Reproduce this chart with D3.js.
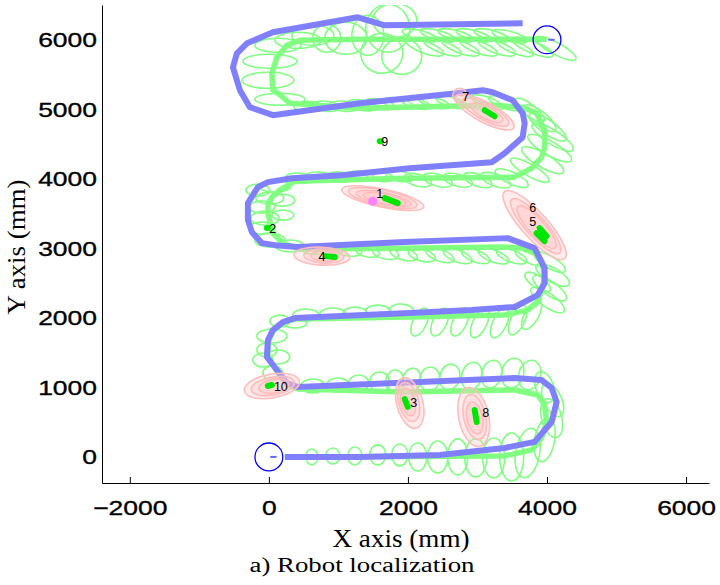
<!DOCTYPE html>
<html>
<head>
<meta charset="utf-8">
<script src="https://cdn.jsdelivr.net/npm/d3@7"></script>
<style>
  html, body { margin: 0; padding: 0; background: #fff; }
  svg { display: block; }
</style>
</head>
<body>
<svg id="chart" width="720" height="585"></svg>
<script>
// ---------------- data (all values in millimetres) ----------------
const xTicks = [-2000, 0, 2000, 4000, 6000];
const yTicks = [0, 1000, 2000, 3000, 4000, 5000, 6000];

// odometry trajectory
const odometryPath = [
  [230,0],[1308,0],[2457,29],[3391,129],[3822,216],[4067,503],[4139,790],[4067,992],
  [3923,1106],[3535,1135],[2170,1078],[417,1006],[259,1063],[115,1250],[-29,1437],
  [-14,1681],[57,1825],[201,1940],[374,1997],[2026,2069],[2917,2112],[3535,2156],
  [3866,2328],[3966,2500],[3966,2716],[3822,3003],[3434,3147],[1954,3090],[417,3018],
  [86,3046],[-101,3075],[-244,3233],[-302,3406],[-302,3650],[-158,3880],[-14,3952],
  [331,4009],[1049,4052],[2026,4153],[3205,4239],[3391,4368],[3650,4598],[3679,4800],
  [3650,4943],[3506,5130],[3219,5245],[3075,5274],[2702,5231],[1308,5087],[57,4915],
  [-273,5030],[-417,5274],[-517,5604],[-460,5805],[-316,5949],[57,6107],[1279,6323],
  [1423,6280],[1667,6208],[3650,6237]
];

// SLAM estimated trajectory
const slamPath = [
  [230,0],[3391,14],[3779,101],[3923,273],[3995,503],[3966,747],[3866,891],[3535,963],
  [1954,934],[417,977],[259,1035],[115,1236],[-14,1437],[0,1681],[72,1825],[216,1940],
  [388,1983],[2026,2012],[3391,2041],[3722,2112],[3866,2227],[3937,2429],[3966,2615],
  [3923,2802],[3822,2931],[3636,3003],[3391,3018],[1954,3003],[445,2989],[201,3075],
  [57,3219],[-14,3506],[-14,3650],[43,3736],[158,3837],[374,3966],[1954,4009],
  [3535,4024],[3779,4153],[3923,4311],[3966,4455],[3966,4699],[3851,4943],[3650,5030],
  [3219,5058],[1308,5015],[302,5087],[129,5231],[57,5274],[43,5518],[115,5748],
  [259,5920],[445,5992],[1308,6007],[3995,6007]
];

// robot pose covariance ellipses: [cx, cy, rx, ry, angle (deg, counter-clockwise)]
const poseEllipses = [
  // first leg, heading +x
  [618,0,86,115,0],[920,14,101,115,0],[1236,14,101,129,0],[1566,29,115,144,0],
  [1882,29,115,158,0],[2141,0,129,201,0],[2429,0,144,230,0],[2716,0,144,259,0],
  [2975,-14,158,273,0],[3233,-14,158,287,0],[3492,0,172,345,0],[3722,57,172,359,-10],
  [3966,244,144,316,-10],[4067,560,144,287,15],[4081,819,129,259,25],[3966,1006,129,230,20],
  // second leg, heading -x
  [3751,1178,158,216,-15],[3506,1207,158,216,-15],[3205,1193,144,201,-15],
  [2917,1164,144,201,-15],[2601,1150,144,187,-15],[2314,1121,144,172,-10],
  [2055,1106,129,172,-10],[1811,1092,129,158,-5],[1595,1078,144,144,0],
  [1293,1063,144,115,0],[992,1035,158,101,0],[632,1020,172,101,0],
  // left turn
  [57,1207,144,101,0],[129,1437,172,101,0],[-29,1538,144,101,0],[43,1739,216,101,0],
  [158,1954,144,86,0],[-86,1394,144,101,0],[374,1926,172,72,0],
  // third leg, heading +x
  [532,2041,187,86,0],[920,2055,187,86,0],[1236,2069,172,86,0],[1566,2098,172,86,0],
  [1911,2112,172,86,-5],
  [2170,1940,101,216,-25],[2457,1940,101,216,-25],[2745,1940,101,216,-25],
  [3032,1926,101,230,-25],[3319,1926,101,230,-25],[3578,1969,101,230,-25],
  [3779,2041,101,230,-30],
  // right turn
  [4009,2256,287,101,-35],[4038,2429,287,101,-35],[4081,2615,273,101,-30],
  [4038,2802,259,86,-30],[3866,2515,216,86,-35],
  // fourth leg, heading -x
  [3751,2874,230,86,-25],[3492,2888,230,86,-20],[3233,2888,230,86,-20],
  [2975,2888,216,86,-20],[2716,2888,216,86,-20],[2457,2903,216,86,-20],
  [2199,2903,201,86,-15],[1940,2917,201,86,-15],[1681,2931,187,86,-10],
  [1423,2946,172,72,-10],[1164,2960,172,72,-5],[905,2975,172,72,0],[647,2989,172,72,0],
  // left turn
  [302,3033,201,86,0],[14,3118,216,101,0],[-101,3291,187,86,0],[-57,3434,201,101,0],
  [-101,3593,187,86,0],[14,3722,201,86,0],[201,3693,172,86,0],[201,3478,158,72,0],
  [-158,3837,172,86,0],[86,3894,230,86,0],
  // fifth leg, heading +x
  [445,4009,201,72,-5],[733,4024,201,72,-5],[1020,4024,201,72,-5],[1308,4038,201,72,-5],
  [1595,4038,201,72,-10],[1882,4038,201,72,-10],
  [2141,3980,201,86,-15],[2429,3980,216,86,-15],[2716,3980,216,86,-15],
  [3003,3980,216,86,-20],[3262,3980,230,86,-20],[3492,4009,259,86,-25],
  // right turn
  [3751,4124,316,86,-30],[3937,4268,345,101,-30],[4038,4441,359,101,-30],
  [4081,4598,345,101,-32],[4009,4742,316,101,-35],[3894,4871,287,101,-38],
  [3751,4986,259,86,-38],
  // sixth leg, heading -x
  [3391,5087,244,72,-20],[3147,5101,244,72,-20],[2888,5101,230,72,-20],
  [2630,5101,230,72,-15],[2371,5101,230,72,-15],[2112,5087,216,72,-15],
  [1854,5087,216,72,-10],[1595,5073,216,72,-10],[1336,5058,216,72,-10],
  [1078,5044,216,72,-5],[819,5044,216,72,-5],[560,5044,201,72,0],
  // left turn
  [158,5144,359,86,0],[-14,5417,374,115,0],[14,5691,388,101,0],[129,5920,331,101,0],
  [417,5992,331,115,0],[632,6064,302,144,0],[833,6021,201,201,0],[1106,6021,302,230,0],
  [1423,6064,230,287,0],[1710,6165,316,345,0],[1911,5762,287,259,0],[1624,5805,302,287,0],
  [1811,6280,316,244,0],
  // last leg, heading +x
  [2170,6064,259,72,-15],[2429,6064,259,72,-15],[2687,6064,259,72,-15],
  [2946,6064,259,72,-15],[3205,6064,259,72,-15],[3463,6050,259,72,-15],
  [2242,5892,287,86,-20],[2500,5892,287,86,-20],[2759,5892,287,86,-20],
  [3018,5892,287,86,-20],[3276,5892,287,86,-20],[3535,5892,287,86,-22],
  [3794,5892,316,86,-22],[4124,5877,331,86,-28]
];

// landmark covariance ellipses: [cx, cy, rx, ry, angle]
const landmarkEllipses = [
  [1638,3722,604,129,-12],[1638,3722,503,115,-12],[1652,3715,402,86,-12],[1667,3708,316,72,-12],
  [2026,776,187,374,15],[2012,790,144,287,15],[2000,790,101,201,15],
  [762,2888,402,129,-3],[790,2888,287,101,-3],[805,2888,201,72,-3],
  [3822,3334,647,187,-48],[3837,3320,517,144,-48],[3851,3305,402,115,-48],
  [3104,4958,474,144,-28],[3118,4958,374,115,-28],[3133,4950,259,86,-28],
  [2745,5202,101,101,0],
  [2946,575,216,431,12],[2960,575,158,331,12],[2960,560,115,230,12],
  [43,1020,402,172,10],[57,1020,316,129,10],[72,1020,216,101,10]
];

// estimated landmark positions drawn as short strokes: [x1, y1, x2, y2]
const landmarkEstimates = [
  [1667,3722,1854,3650],
  [-29,3291,-14,3291],
  [1954,833,1997,718],
  [819,2888,948,2874],
  [3894,3291,3995,3176],
  [3851,3219,3966,3104],
  [3104,4986,3248,4900],
  [2960,675,2989,503],
  [1595,4541,1610,4541],
  [-14,1020,43,1035]
];

const landmarkIds    = ["1","2","3","4","5","6","7","8","9","10"];
const landmarkLabelX = [1595, 57, 2084, 762, 3794, 3794, 2831, 3118, 1667, 172];
const landmarkLabelY = [3794, 3291, 790, 2888, 3392, 3593, 5188, 632, 4541, 1006];

const initialGuess = [[1494, 3679]];

// robot footprint at start and end: [x, y, heading deg]
const robotPoses = [[0, 0, 0], [4000, 6000, 0]];
const robotRadius = 200;

// ---------------- layout ----------------
const svg = d3.select("#chart");
const x = d3.scaleLinear().domain([-2400, 6330]).range([102, 709]);
const y = d3.scaleLinear().domain([-375, 6500]).range([483, 5]);
const k = x(1) - x(0);

svg.append("rect").attr("width", 720).attr("height", 585).attr("fill", "#fff");

svg.append("defs").append("clipPath").attr("id", "plotClip")
  .append("rect").attr("x", 102).attr("y", 5).attr("width", 607).attr("height", 478);

const plot = svg.append("g").attr("clip-path", "url(#plotClip)");

const ellipseTransform = d => `translate(${x(d[0])},${y(d[1])}) rotate(${-d[4]})`;

// pose covariance ellipses
plot.append("g").selectAll("ellipse").data(poseEllipses).join("ellipse")
  .attr("transform", ellipseTransform)
  .attr("rx", d => d[2] * k).attr("ry", d => d[3] * k)
  .attr("fill", "none").attr("stroke", "#80ff80").attr("stroke-width", 1.6);

const line = d3.line().x(d => x(d[0])).y(d => y(d[1]));

// SLAM trajectory
plot.append("path").datum(slamPath).attr("d", line)
  .attr("fill", "none").attr("stroke", "#80ff80").attr("stroke-width", 5.5)
  .attr("stroke-linejoin", "round");

// odometry trajectory
plot.append("path").datum(odometryPath).attr("d", line)
  .attr("fill", "none").attr("stroke", "#8080ff").attr("stroke-width", 6)
  .attr("stroke-linejoin", "round");

// landmark covariance ellipses
plot.append("g").selectAll("ellipse").data(landmarkEllipses).join("ellipse")
  .attr("transform", ellipseTransform)
  .attr("rx", d => d[2] * k).attr("ry", d => d[3] * k)
  .attr("fill", "rgba(255,200,200,0.35)").attr("stroke", "#ffbcbc").attr("stroke-width", 1.6);

// initial landmark guess
plot.append("g").selectAll("circle").data(initialGuess).join("circle")
  .attr("cx", d => x(d[0])).attr("cy", d => y(d[1])).attr("r", 4.5)
  .attr("fill", "#ff80ff");

// landmark estimates
plot.append("g").selectAll("line").data(landmarkEstimates).join("line")
  .attr("x1", d => x(d[0])).attr("y1", d => y(d[1]))
  .attr("x2", d => x(d[2])).attr("y2", d => y(d[3]))
  .attr("stroke", "#00e600").attr("stroke-width", 6).attr("stroke-linecap", "round");

// landmark ids
plot.append("g").selectAll("text").data(landmarkIds).join("text")
  .attr("x", (d, i) => x(landmarkLabelX[i])).attr("y", (d, i) => y(landmarkLabelY[i]))
  .attr("text-anchor", "middle").attr("dy", "0.36em")
  .attr("font-family", "Liberation Sans, Arial, sans-serif").attr("font-size", 12.5)
  .attr("fill", "#000").text(d => d);

// robot footprint at start and end
const robots = plot.append("g").selectAll("g").data(robotPoses).join("g")
  .attr("transform", d => `translate(${x(d[0])},${y(d[1])}) rotate(${-d[2]})`);
robots.append("circle").attr("r", robotRadius * k)
  .attr("fill", "none").attr("stroke", "#0000ff").attr("stroke-width", 1.3);
robots.append("line").attr("x1", robotRadius * k * 0.1).attr("x2", robotRadius * k * 0.55)
  .attr("stroke", "#6666ff").attr("stroke-width", 2);

// ---------------- axes ----------------
const stretch = (sel, f) => sel.each(function () {
  const w = this.getComputedTextLength();
  d3.select(this).attr("textLength", w * f).attr("lengthAdjust", "spacingAndGlyphs");
});

const xAxis = svg.append("g").attr("transform", "translate(0,483)")
  .call(d3.axisBottom(x).tickValues(xTicks).tickFormat(d3.format("d"))
    .tickSizeInner(-6).tickSizeOuter(0).tickPadding(17));
xAxis.selectAll("text").attr("font-size", 21)
  .attr("font-family", "Liberation Sans, Arial, sans-serif").attr("fill", "#000")
  .attr("stroke", "#000").attr("stroke-width", 0.35);
xAxis.selectAll("line,path").attr("stroke", "#000");
stretch(xAxis.selectAll("text"), 1.26);

const yAxis = svg.append("g").attr("transform", "translate(102,0)")
  .call(d3.axisLeft(y).tickValues(yTicks).tickFormat(d3.format("d"))
    .tickSize(0).tickPadding(5));
yAxis.selectAll("text").attr("font-size", 21)
  .attr("font-family", "Liberation Sans, Arial, sans-serif").attr("fill", "#000")
  .attr("stroke", "#000").attr("stroke-width", 0.35);
yAxis.selectAll("path").attr("stroke", "#000");
stretch(yAxis.selectAll("text"), 1.26);

const serif = "Liberation Serif, Times New Roman, serif";
svg.append("text").attr("x", 401).attr("y", 547).attr("text-anchor", "middle")
  .attr("font-family", serif).attr("font-size", 25).attr("fill", "#000")
  .attr("textLength", 137).attr("lengthAdjust", "spacingAndGlyphs")
  .text("X axis (mm)");

svg.append("text").attr("transform", "translate(25,247) rotate(-90)")
  .attr("text-anchor", "middle")
  .attr("font-family", serif).attr("font-size", 25).attr("fill", "#000")
  .attr("textLength", 135).attr("lengthAdjust", "spacingAndGlyphs")
  .text("Y axis (mm)");

svg.append("text").attr("x", 362).attr("y", 572).attr("text-anchor", "middle")
  .attr("font-family", serif).attr("font-size", 20).attr("fill", "#000")
  .attr("textLength", 225).attr("lengthAdjust", "spacingAndGlyphs")
  .text("a) Robot localization");
</script>
</body>
</html>
